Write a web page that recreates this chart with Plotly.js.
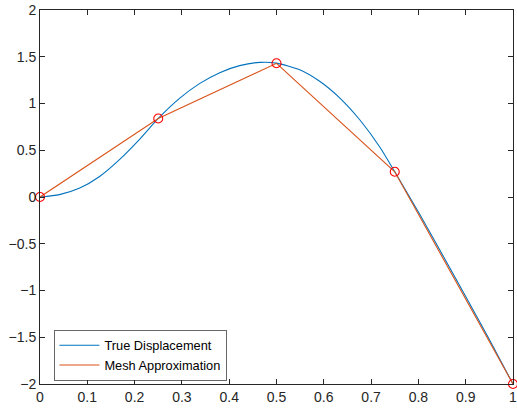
<!DOCTYPE html>
<html>
<head>
<meta charset="utf-8">
<script src="https://cdn.plot.ly/plotly-3.0.1.min.js"></script>
<style>
  html, body { margin: 0; padding: 0; background: #ffffff; }
  #chart { width: 517px; height: 411px; }
</style>
</head>
<body>
<div id="chart"></div>
<script>
// Exact displacement sampled along the bar
var trueX = [0, 0.041, 0.084, 0.126, 0.168, 0.211, 0.25, 0.295, 0.338, 0.38, 0.422, 0.465, 0.5,
             0.549, 0.592, 0.634, 0.676, 0.719, 0.75, 0.8, 0.85, 0.9, 0.95, 1];
var trueY = [0, 0.025, 0.096, 0.22, 0.40, 0.62, 0.84, 1.055, 1.215, 1.33, 1.405, 1.44, 1.432,
             1.36, 1.235, 1.058, 0.826, 0.53, 0.27, -0.16, -0.61, -1.065, -1.525, -2];

// Nodal values of the finite element mesh
var meshX = [0, 0.25, 0.5, 0.75, 1];
var meshY = [0, 0.84, 1.43, 0.27, -2];

var seriesNames = ['True Displacement', 'Mesh Approximation'];

var axisColor = '#262626';
var tickFont = { family: 'Liberation Sans, Arial, sans-serif', size: 14, color: axisColor };

var traces = [
  {
    x: trueX, y: trueY, mode: 'lines', name: seriesNames[0],
    line: { color: '#0072BD', width: 1.1, shape: 'spline', smoothing: 0.6 }
  },
  {
    x: meshX, y: meshY, mode: 'lines', name: seriesNames[1],
    line: { color: '#D95319', width: 1.1 }
  },
  {
    x: meshX, y: meshY, mode: 'markers', showlegend: false, cliponaxis: false,
    marker: { symbol: 'circle-open', size: 9, color: '#FF0000', line: { width: 1.1, color: '#FF0000' } }
  }
];

var axisCommon = {
  showgrid: false, zeroline: false, showline: true, linecolor: axisColor, linewidth: 1,
  mirror: 'ticks', ticks: 'inside', ticklen: 5, tickcolor: axisColor, tickwidth: 1,
  tickfont: tickFont, ticklabeloverflow: 'allow'
};

var layout = {
  width: 517, height: 411,
  margin: { l: 40, r: 4, t: 10, b: 27, pad: 0 },
  paper_bgcolor: '#ffffff', plot_bgcolor: '#ffffff',
  showlegend: true,
  legend: {
    x: 0.029, y: 0.145, xanchor: 'left', yanchor: 'top',
    bgcolor: '#ffffff', bordercolor: axisColor, borderwidth: 0.7,
    font: { family: 'Liberation Sans, Arial, sans-serif', size: 12.8, color: '#000000' },
    tracegroupgap: 0, itemwidth: 40
  },
  xaxis: Object.assign({}, axisCommon, { range: [0, 1], dtick: 0.1, tick0: 0 }),
  yaxis: Object.assign({}, axisCommon, { range: [-2, 2], dtick: 0.5, tick0: 0 })
};

Plotly.newPlot('chart', traces, layout, { displayModeBar: false, staticPlot: true });
</script>
</body>
</html>
